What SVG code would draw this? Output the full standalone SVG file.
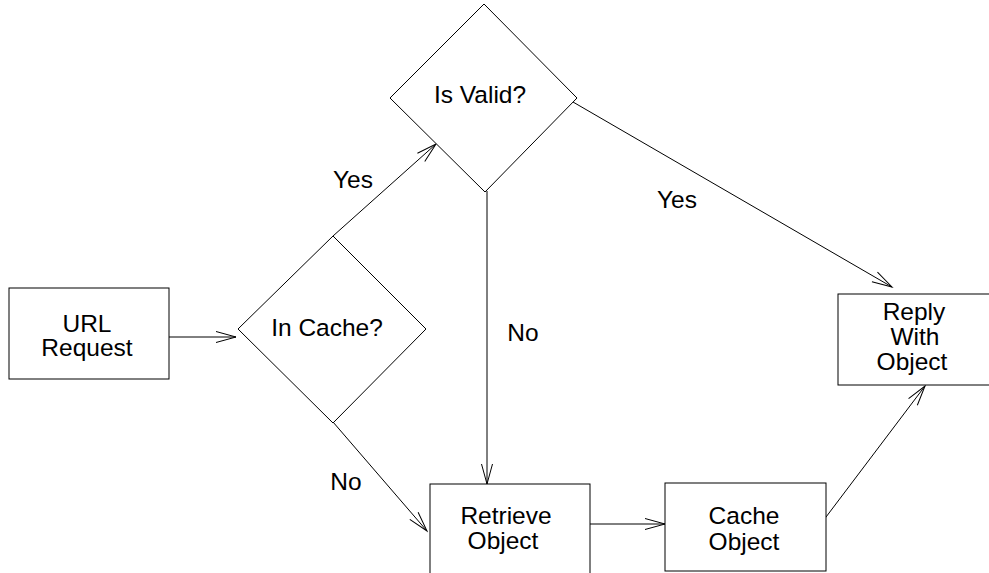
<svg xmlns="http://www.w3.org/2000/svg" width="989" height="573" viewBox="0 0 989 573">
<style>
.shape{fill:#fff;stroke:#000;stroke-width:1}
.edge{fill:none;stroke:#000;stroke-width:1}
text{font-family:"Liberation Sans",Arial,sans-serif;font-size:24.5px;fill:#000;text-anchor:middle}
</style>
<defs>
<marker id="arr" markerUnits="userSpaceOnUse" viewBox="-22 -7 24 14" refX="0" refY="0" markerWidth="24" markerHeight="14" orient="auto">
<path d="M-20,-5.5 L0,0 L-20,5.5" fill="none" stroke="#000" stroke-width="1"/>
</marker>
</defs>
<rect width="989" height="573" fill="#fff"/>
<g id="connectors">
<line class="edge" x1="169" y1="337" x2="236" y2="337" marker-end="url(#arr)"/>
<line class="edge" x1="333" y1="236" x2="436" y2="144" marker-end="url(#arr)"/>
<line class="edge" x1="487" y1="191" x2="487" y2="484" marker-end="url(#arr)"/>
<line class="edge" x1="333" y1="422" x2="427" y2="531" marker-end="url(#arr)"/>
<line class="edge" x1="590" y1="524" x2="665" y2="524" marker-end="url(#arr)"/>
<line class="edge" x1="573" y1="102" x2="892" y2="287" marker-end="url(#arr)"/>
<line class="edge" x1="823" y1="521" x2="925" y2="386" marker-end="url(#arr)"/>
<text x="353" y="188">Yes</text>
<text x="677" y="208">Yes</text>
<text x="523" y="341">No</text>
<text x="346" y="490">No</text>
</g>
<g id="url-request">
<rect class="shape" x="9" y="288" width="160" height="91"/>
<text x="87" y="332">URL</text>
<text x="87" y="356">Request</text>
</g>
<g id="in-cache">
<polygon class="shape" points="333,236 426,329 333,423 238,329"/>
<text x="327" y="336">In Cache?</text>
</g>
<g id="is-valid">
<polygon class="shape" points="484,4 577,98 485,192 390,98"/>
<text x="480" y="103">Is Valid?</text>
</g>
<g id="retrieve-object">
<rect class="shape" x="430" y="484" width="160" height="95"/>
<text x="506" y="524">Retrieve</text>
<text x="503" y="549">Object</text>
</g>
<g id="cache-object">
<rect class="shape" x="665" y="483" width="161" height="88"/>
<text x="744" y="524">Cache</text>
<text x="744" y="550">Object</text>
</g>
<g id="reply-with-object">
<rect class="shape" x="838" y="294" width="160" height="91"/>
<text x="914" y="320">Reply</text>
<text x="915" y="345">With</text>
<text x="912" y="370">Object</text>
</g>
</svg>
